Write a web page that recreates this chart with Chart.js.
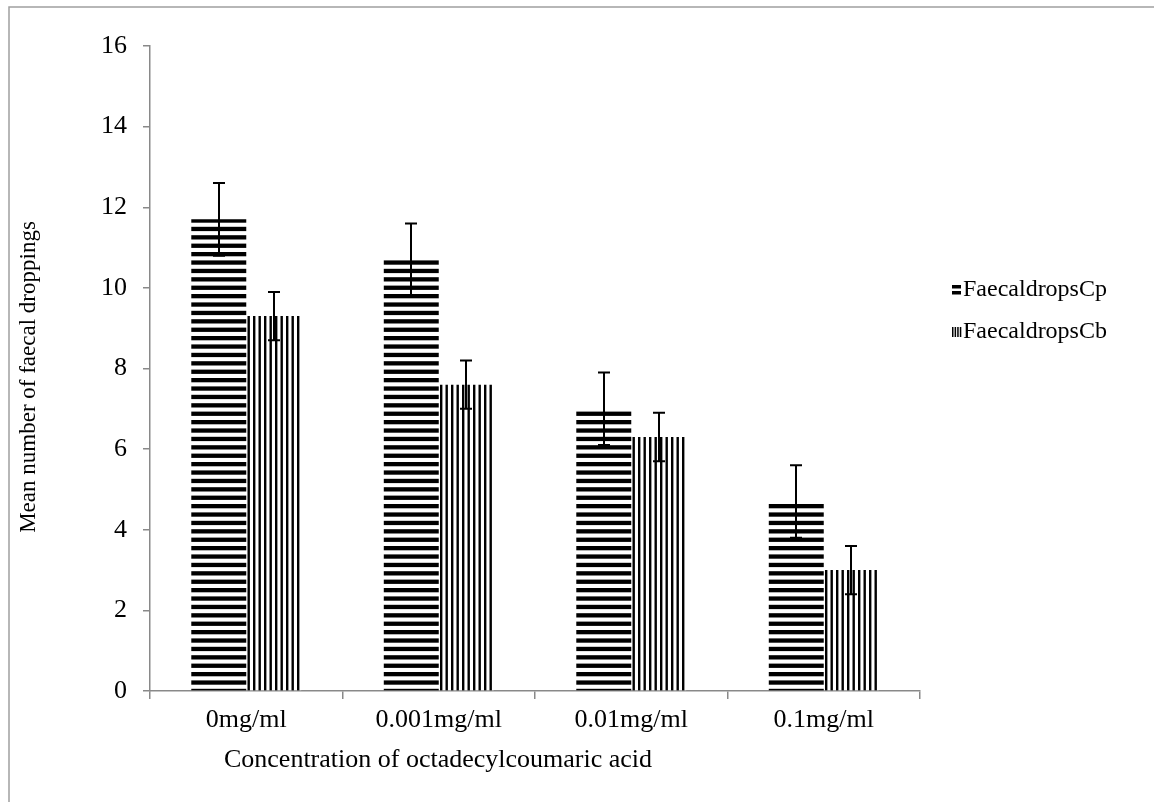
<!DOCTYPE html>
<html><head><meta charset="utf-8">
<script src="https://cdn.jsdelivr.net/npm/chart.js@4/dist/chart.umd.min.js"></script>
<style>html,body{margin:0;padding:0;background:#fff;}#wrap{width:1154px;height:802px;position:relative;}canvas{display:block;}</style>
</head><body><div id="wrap"><canvas id="c" width="1154" height="802"></canvas></div>
<script>
const categories = ['0mg/ml', '0.001mg/ml', '0.01mg/ml', '0.1mg/ml'];
const seriesNames = ['FaecaldropsCp', 'FaecaldropsCb'];
const cpValues = [11.7, 10.7, 7.0, 4.7];
const cbValues = [9.3, 7.6, 6.3, 3.0];
const cpErrors = [0.9, 0.9, 0.9, 0.9];
const cbErrors = [0.6, 0.6, 0.6, 0.6];
const yTicks = [0, 2, 4, 6, 8, 10, 12, 14, 16];
const xTitle = 'Concentration of octadecylcoumaric acid';
const yTitle = 'Mean number of faecal droppings';

const FONT = '"Liberation Serif", "Times New Roman", serif';
const AXIS_GRAY = '#898989';

function makeHPattern() {
  const c = document.createElement('canvas');
  c.width = 10; c.height = 42;
  const g = c.getContext('2d');
  g.fillStyle = '#fff'; g.fillRect(0, 0, 10, 42);
  g.fillStyle = '#000';
  for (let k = 0; k < 5; k++) g.fillRect(0, k * 8.4, 10, 4.3);
  return g.createPattern(c, 'repeat');
}
function makeVPattern() {
  const c = document.createElement('canvas');
  c.width = 11; c.height = 10;
  const g = c.getContext('2d');
  g.fillStyle = '#fff'; g.fillRect(0, 0, 11, 10);
  g.fillStyle = '#000';
  for (let k = 0; k < 2; k++) g.fillRect(k * 5.5, 0, 2.4, 10);
  return g.createPattern(c, 'repeat');
}
const ctx = document.getElementById('c').getContext('2d');
const hPat = makeHPattern();
const vPat = makeVPattern();
const errorSets = [cpErrors, cbErrors];

const bgPlugin = {
  id: 'bg',
  beforeDraw(chart) {
    const g = chart.ctx;
    g.save();
    g.fillStyle = '#fff';
    g.fillRect(0, 0, chart.width, chart.height);
    g.strokeStyle = '#a0a0a0';
    g.lineWidth = 1.5;
    g.beginPath();
    g.moveTo(9, chart.height);
    g.lineTo(9, 7);
    g.lineTo(chart.width, 7);
    g.stroke();
    g.restore();
  }
};

const errPlugin = {
  id: 'errbars',
  afterDatasetsDraw(chart) {
    const g = chart.ctx;
    const ys = chart.scales.y;
    g.save();
    g.strokeStyle = '#000';
    g.lineWidth = 2;
    chart.data.datasets.forEach((ds, di) => {
      const meta = chart.getDatasetMeta(di);
      meta.data.forEach((el, i) => {
        const v = ds.data[i], e = errorSets[di][i];
        const x = Math.round(el.x);
        const yT = ys.getPixelForValue(v + e), yB = ys.getPixelForValue(v - e);
        g.beginPath();
        g.moveTo(x, yT); g.lineTo(x, yB);
        g.moveTo(x - 6, yT); g.lineTo(x + 6, yT);
        g.moveTo(x - 6, yB); g.lineTo(x + 6, yB);
        g.stroke();
      });
    });
    g.restore();
  }
};

const textPlugin = {
  id: 'texts',
  afterDraw(chart) {
    const g = chart.ctx;
    g.save();
    g.fillStyle = '#000';
    g.font = '26px ' + FONT;
    g.textAlign = 'center';
    g.textBaseline = 'middle';
    g.fillText(xTitle, 438, 760);
    g.save();
    g.font = '23px ' + FONT;
    g.translate(29, 377);
    g.rotate(-Math.PI / 2);
    g.fillText(yTitle, 0, 0);
    g.restore();
    // legend
    g.font = '24px ' + FONT;
    g.textAlign = 'left';
    g.fillStyle = '#000';
    g.fillRect(952, 285, 9, 3.5);
    g.fillRect(952, 291, 9, 3.5);
    g.fillText(seriesNames[0], 963, 290);
    for (let k = 0; k < 4; k++) g.fillRect(952 + k * 2.6, 327, 1.5, 10);
    g.fillText(seriesNames[1], 963, 332);
    g.restore();
  }
};

new Chart(ctx, {
  type: 'bar',
  data: {
    labels: categories,
    datasets: [
      { label: seriesNames[0], data: cpValues, backgroundColor: hPat, borderWidth: 0, barPercentage: 1, categoryPercentage: 0.571 },
      { label: seriesNames[1], data: cbValues, backgroundColor: vPat, borderWidth: 0, barPercentage: 1, categoryPercentage: 0.571 }
    ]
  },
  options: {
    responsive: false,
    animation: false,
    devicePixelRatio: 1,
    layout: { padding: { left: 0, top: 46, right: 234, bottom: 0 } },
    plugins: { legend: { display: false }, tooltip: { enabled: false } },
    scales: {
      x: {
        afterFit(s) { s.height = 111; },
        grid: { drawOnChartArea: false, drawTicks: true, tickLength: 8, color: AXIS_GRAY, lineWidth: 1.5, offset: true },
        border: { color: AXIS_GRAY, width: 1.5 },
        ticks: { color: '#000', font: { family: FONT, size: 26 }, padding: 6, maxRotation: 0 },
        title: { display: false }
      },
      y: {
        min: 0, max: 16,
        afterFit(s) { s.width = 150; },
        afterBuildTicks(s) { s.ticks = yTicks.map(v => ({ value: v })); },
        grid: { drawOnChartArea: false, drawTicks: true, tickLength: 7, color: AXIS_GRAY, lineWidth: 1.5 },
        border: { color: AXIS_GRAY, width: 1.5 },
        ticks: { color: '#000', font: { family: FONT, size: 26 }, padding: 16 },
        title: { display: false }
      }
    }
  },
  plugins: [bgPlugin, errPlugin, textPlugin]
});
</script>
</body></html>
